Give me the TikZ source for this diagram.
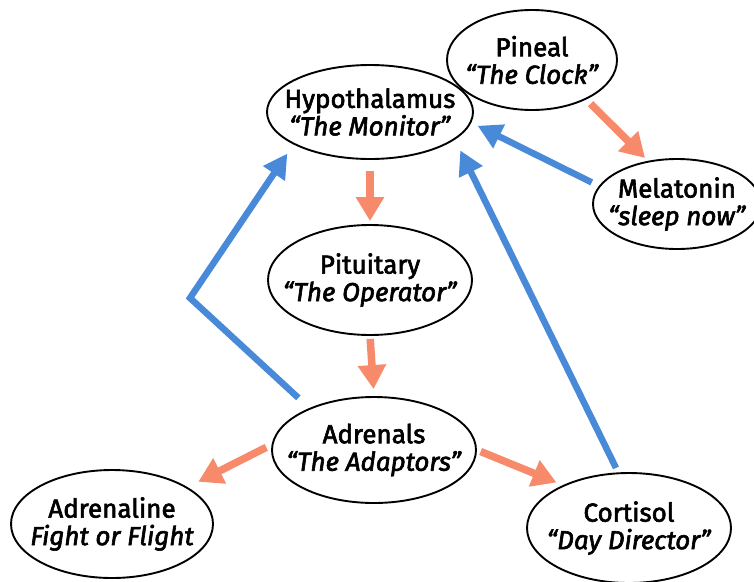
\documentclass[tikz,border=0pt]{standalone}
\usepackage{fontspec}
\setmainfont{Fira Sans}[FakeBold=2.4]
\usetikzlibrary{arrows.meta,shapes.geometric}
\definecolor{salmon}{RGB}{246,138,106}
\definecolor{sky}{RGB}{72,137,216}
\begin{document}
\begin{tikzpicture}[x=1pt,y=-1pt,
  organ/.style={ellipse, draw=black, line width=1.9pt, inner sep=0pt},
  txt/.style={align=center, inner sep=0pt, font=\fontsize{26}{27.5}\selectfont},
  warm/.style={draw=salmon, line width=7.5pt, -{Triangle[width=27pt,length=24pt]}},
  cool/.style={draw=sky, line width=6.5pt, -{Triangle[width=25pt,length=24pt]}}]
\useasboundingbox[fill=white] (0,0) rectangle (754,581);
% ellipses
\node[organ, minimum width=206pt, minimum height=94pt] (hyp) at (370,112) {};
\node[organ, minimum width=170pt, minimum height=100pt] (pin) at (532,60) {};
\node[organ, minimum width=168pt, minimum height=90pt] (mel) at (677,204) {};
\node[organ, minimum width=204pt, minimum height=110pt] (pit) at (370,280) {};
\node[organ, minimum width=204pt, minimum height=106pt] (adr) at (374,450) {};
\node[organ, minimum width=202pt, minimum height=108pt] (adl) at (112,524) {};
\node[organ, minimum width=204pt, minimum height=110pt] (cor) at (629,528) {};
% texts
\node[txt] (hypt) at (hyp) {Hypothalamus\\\textit{“The Monitor”}};
\node[txt] (pint) at (pin) {Pineal\\\textit{“The Clock”}};
\node[txt] (melt) at (mel) {Melatonin\\\textit{“sleep now”}};
\node[txt] (pitt) at (pit) {Pituitary\\\textit{“The Operator”}};
\node[txt] (adrt) at (adr) {Adrenals\\\textit{“The Adaptors”}};
\node[txt] (adlt) at (adl) {Adrenaline\\\textit{Fight or Flight}};
\node[txt] (cort) at (cor) {Cortisol\\\textit{“Day Director”}};
% orange arrows
\draw[warm, shorten <=11pt, shorten >=3pt] (hyp.south) -- (pit.north);
\draw[warm, shorten <=3pt, shorten >=7pt] (pit.south) -- (adr.north);
\draw[warm, shorten <=6pt, shorten >=4pt] (pin.-36) -- (mel.124);
\draw[warm, shorten <=6pt, shorten >=12pt] (adr.177) -- (adl.26);
\draw[warm, shorten <=4pt, shorten >=7pt] (adr.0) -- (cor.147);
% blue arrows
\coordinate (bend) at (190,298);
\draw[cool, shorten <=8pt, shorten >=7pt] (mel.167) -- (hyp.-6);
\draw[cool, shorten <=5pt, shorten >=12pt] (cor.101) -- (hyp.-18);
\draw[cool, shorten <=15pt, shorten >=11pt] (adr.147) -- (bend) -- (hyp.-157.4);
\end{tikzpicture}
\end{document}
